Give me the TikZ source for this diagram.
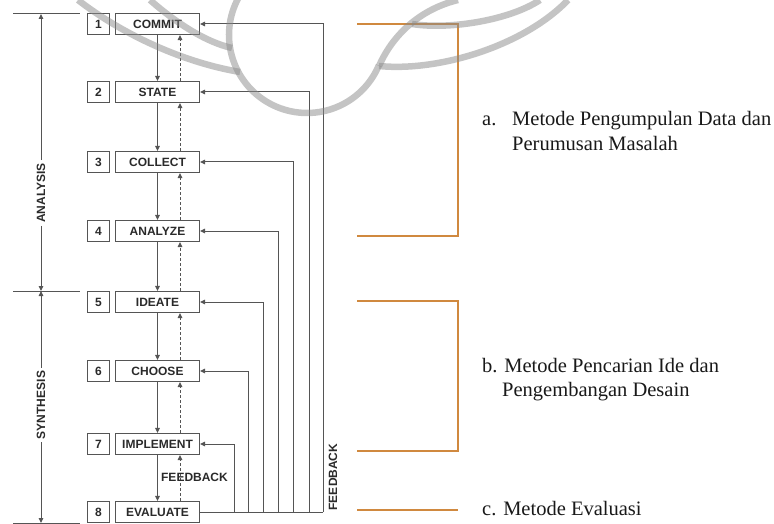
\documentclass[tikz,border=0pt]{standalone}
\usepackage{fontspec}
\newfontfamily\serifx{Liberation Serif}
\newfontfamily\sansx{Liberation Sans}[BoldFont={Liberation Sans Bold}]
\usetikzlibrary{arrows.meta}
\definecolor{ln}{HTML}{555555}
\definecolor{tx}{HTML}{2A2A2A}
\definecolor{org}{HTML}{D0893F}
\definecolor{wm}{HTML}{8A8A8A}
\tikzset{
  boxfont/.style={font=\sansx\bfseries\fontsize{12}{13}\selectfont, text=tx},
  numbox/.style={draw=ln, line width=1.1pt, minimum width=22pt, minimum height=21pt, inner sep=0pt, boxfont},
  namebox/.style={draw=ln, line width=1.1pt, minimum width=84pt, minimum height=21pt, inner sep=0pt, boxfont},
  tip/.style={-{Triangle[length=5pt,width=4.5pt]}},
  conn/.style={draw=ln, line width=1pt, tip},
  dconn/.style={conn, dash pattern=on 3pt off 2pt},
  plain/.style={draw=ln, line width=1pt},
  axlab/.style={boxfont, inner sep=3pt},
  orangeline/.style={draw=org, line width=1.2pt},
  rtext/.style={font=\serifx\fontsize{20.5}{24}\selectfont, text=black!90, inner sep=0pt, anchor=base west},
  wmark/.style={draw=wm, line width=6.5pt, opacity=0.5}
}
\begin{document}
\begin{tikzpicture}[x=1pt, y=-1pt]
\useasboundingbox (0,0) rectangle (774,524);

% step boxes
\foreach \i/\y/\t in {1/24/COMMIT, 2/92/STATE, 3/162/COLLECT, 4/231/ANALYZE, 5/302/IDEATE, 6/371/CHOOSE, 7/444/IMPLEMENT, 8/512/EVALUATE}{
  \node[numbox] (n\i) at (98.5,\y) {\i};
  \node[namebox] (b\i) at (157.5,\y) {\t};
}

% forward arrows and dashed return arrows
\foreach \i/\j in {1/2, 2/3, 3/4, 4/5, 5/6, 6/7, 7/8}{
  \draw[conn] (b\i.south) -- (b\j.north);
  \draw[dconn] ([xshift=22.5pt]b\j.north) -- ([xshift=22.5pt]b\i.south);
}
\node[boxfont, inner sep=0pt] (fbin) at (194.5,477) {FEEDBACK};

% feedback loops
\foreach \i/\x in {1/323, 2/309, 3/293, 4/278, 5/263, 6/248, 7/234}{
  \coordinate (f\i) at (\x,512);
  \draw[conn] (f\i) |- (b\i.east);
}
\draw[plain] (b8.east) -- (f1);
\node[boxfont, inner sep=0pt, rotate=90] (fbout) at (333,477) {FEEDBACK};

% analysis / synthesis axis
\coordinate (atop) at (41,14);
\coordinate (amid) at (41,291);
\coordinate (abot) at (41,523);
\coordinate (h1a) at (13,14);  \coordinate (h1b) at (80,14);
\coordinate (h2a) at (13,291); \coordinate (h2b) at (80,291);
\coordinate (h3a) at (13,523); \coordinate (h3b) at (80,523);
\draw[plain] (h1a) -- (h1b);
\draw[plain] (h2a) -- (h2b);
\draw[plain] (h3a) -- (h3b);
\node[axlab, rotate=90] (ana) at (41,193) {ANALYSIS};
\node[axlab, rotate=90] (syn) at (41,405) {SYNTHESIS};
\draw[conn] (ana.east) -- (atop);
\draw[conn] (ana.west) -- (amid);
\draw[conn] (syn.east) -- (amid);
\draw[conn] (syn.west) -- (abot);

% orange brackets
\coordinate (o1) at (357,24);  \coordinate (o2) at (458,24);
\coordinate (o3) at (458,236); \coordinate (o4) at (357,236);
\coordinate (o5) at (357,301); \coordinate (o6) at (458,301);
\coordinate (o7) at (458,451); \coordinate (o8) at (357,451);
\coordinate (o9) at (357,510); \coordinate (o10) at (458,510);
\draw[orangeline] (o1) -- (o2) -- (o3) -- (o4);
\draw[orangeline] (o5) -- (o6) -- (o7) -- (o8);
\draw[orangeline] (o9) -- (o10);

% right texts
\node[rtext] (ta1) at (482,126) {\makebox[30pt][l]{a.}Metode Pengumpulan Data dan};
\node[rtext] (ta2) at (512,150) {Perumusan Masalah};
\node[rtext] (tb1) at (482,372) {b. Metode Pencarian Ide dan};
\node[rtext] (tb2) at (502,396) {Pengembangan Desain};
\node[rtext] (tc1) at (482,515) {c. Metode Evaluasi};

% watermark
\begin{scope}
  \clip (0,0) rectangle (774,524);
  \draw[wmark] (307,35) ++(148.5:78pt) arc[start angle=148.5, end angle=337, radius=78pt];
  \draw[wmark] (78,0) .. controls (110,25) and (170,60) .. (240,72);
  \draw[wmark] (150,0) .. controls (175,22) and (205,42) .. (232,48);
  \draw[wmark] (379,66) .. controls (395,30) and (425,8) .. (458,0);
  \draw[wmark] (412,24) .. controls (450,30) and (510,20) .. (540,0);
  \draw[wmark] (379,66) .. controls (440,72) and (525,45) .. (568,0);
\end{scope}
\end{tikzpicture}
\end{document}
